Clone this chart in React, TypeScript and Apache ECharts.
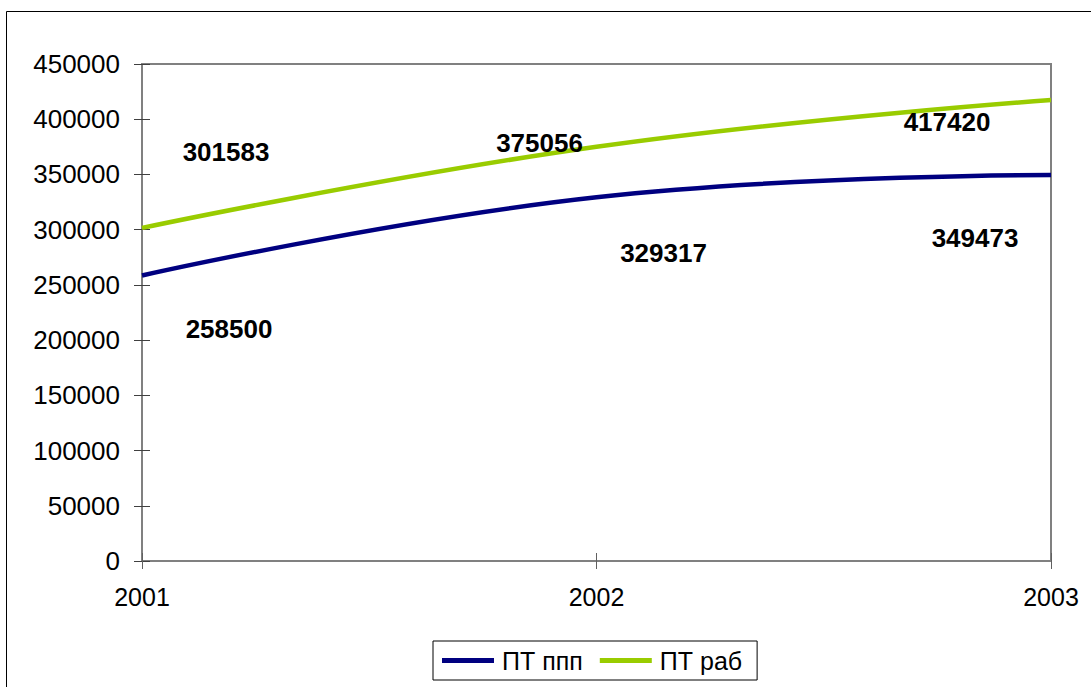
import React, { useEffect, useRef } from "react";
import * as echarts from "echarts";

const years = ["2001", "2002", "2003"];
const ptPpp = [258500, 329317, 349473];
const ptRab = [301583, 375056, 417420];
const pppOffsets = [[87, 53], [67, 56], [-76, 63]];
const rabOffsets = [[84, -76], [-57, -4], [-104, 22]];

const FONT = "Liberation Sans, Arial, sans-serif";

export default function App() {
  const ref = useRef<HTMLDivElement>(null);

  useEffect(() => {
    document.body.style.margin = "0";
    const chart = echarts.init(ref.current!, null, { renderer: "svg" });

    const labelStyle = {
      show: true,
      position: "inside" as const,
      color: "#000",
      fontFamily: FONT,
      fontSize: 26,
      fontWeight: "bold" as const,
    };

    chart.setOption({
      animation: false,
      backgroundColor: "#fff",
      textStyle: { fontFamily: FONT },
      graphic: [
        {
          type: "rect",
          shape: { x: 6.5, y: 11.5, width: 1100, height: 700 },
          style: { fill: "none", stroke: "#000", lineWidth: 1 },
          silent: true,
          z: -1,
        },
      ],
      grid: {
        left: 142,
        top: 64,
        right: 40,
        bottom: 126,
        show: true,
        borderColor: "#808080",
        borderWidth: 2,
        backgroundColor: "transparent",
      },
      legend: {
        left: 433,
        top: 641,
        borderColor: "#000",
        borderWidth: 1,
        padding: [7, 15, 7, 9],
        itemWidth: 52,
        itemHeight: 5,
        itemGap: 17,
        icon: "rect",
        textStyle: { fontFamily: FONT, fontSize: 25, color: "#000", padding: [0, 0, 0, 3] },
        data: ["ПТ ппп", "ПТ раб"],
      },
      xAxis: [
        {
          type: "category",
          data: years,
          boundaryGap: false,
          axisLine: { show: true, lineStyle: { color: "#808080", width: 2 } },
          axisTick: { show: true, length: 8, lineStyle: { color: "#606060", width: 1 } },
          axisLabel: { margin: 23, color: "#000", fontSize: 25, fontFamily: FONT },
          splitLine: { show: false },
        },
        {
          type: "category",
          data: years,
          boundaryGap: false,
          position: "bottom",
          axisLine: { show: false },
          axisTick: { show: true, inside: true, length: 8, lineStyle: { color: "#606060", width: 1 } },
          axisLabel: { show: false },
          splitLine: { show: false },
        },
      ],
      yAxis: [
        {
          type: "value",
          min: 0,
          max: 450000,
          interval: 50000,
          axisLine: { show: true, lineStyle: { color: "#808080", width: 2 } },
          axisTick: { show: true, length: 8, lineStyle: { color: "#404040", width: 1 } },
          axisLabel: {
            margin: 22,
            color: "#000",
            fontSize: 26,
            fontFamily: FONT,
            formatter: (v: number) => String(v),
          },
          splitLine: { show: false },
        },
        {
          type: "value",
          min: 0,
          max: 450000,
          interval: 50000,
          position: "left",
          axisLine: { show: false },
          axisTick: { show: true, inside: true, length: 8, lineStyle: { color: "#404040", width: 1 } },
          axisLabel: { show: false },
          splitLine: { show: false },
        },
      ],
      series: [
        {
          name: "ПТ ппп",
          type: "line",
          smooth: 0.45,
          clip: false,
          showSymbol: true,
          symbol: "circle",
          symbolSize: 0,
          itemStyle: { color: "#000080" },
          lineStyle: { color: "#000080", width: 4.5 },
          data: ptPpp.map((v, i) => ({
            value: v,
            label: { ...labelStyle, offset: pppOffsets[i] },
          })),
          label: labelStyle,
          z: 3,
        },
        {
          name: "ПТ раб",
          type: "line",
          smooth: 0.45,
          clip: false,
          showSymbol: true,
          symbol: "circle",
          symbolSize: 0,
          itemStyle: { color: "#99CC00" },
          lineStyle: { color: "#99CC00", width: 4.5 },
          data: ptRab.map((v, i) => ({
            value: v,
            label: { ...labelStyle, offset: rabOffsets[i] },
          })),
          label: labelStyle,
          z: 3,
        },
      ],
    });

    return () => chart.dispose();
  }, []);

  return (
    <div
      ref={ref}
      style={{ position: "absolute", left: 0, top: 0, width: 1091, height: 687 }}
    />
  );
}
